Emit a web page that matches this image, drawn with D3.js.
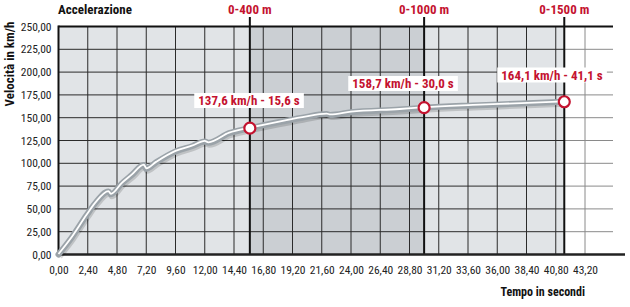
<!DOCTYPE html>
<html>
<head>
<meta charset="utf-8">
<script src="https://cdn.jsdelivr.net/npm/d3@7"></script>
<style>
  html, body { margin: 0; padding: 0; background: #fff; }
  svg { display: block; }
</style>
</head>
<body>
<svg id="chart" width="630" height="307"></svg>
<script>
// accelerazione: tempo (s) / velocita (km/h)
const times  = [0, 1.1, 2.3, 3.0, 4.1, 4.3, 5.2, 6.0, 7.0, 7.2, 8.0, 9.6, 11.0, 12.0, 12.3, 14.0, 15.7, 18.0, 20.0, 22.0, 22.3, 24.0, 28.0, 30.0, 34.0, 38.0, 41.5]
const speeds = [0, 19, 43, 56, 69, 66, 78, 87, 98, 94, 101, 113, 119, 124, 122.5, 133, 138.5, 145, 150, 154, 153, 156, 159, 161, 163.5, 165.5, 167.5]

const xTicks = [0, 2.4, 4.8, 7.2, 9.6, 12, 14.4, 16.8, 19.2, 21.6, 24, 26.4, 28.8, 31.2, 33.6, 36, 38.4, 40.8, 43.2]
const yTicks = [0, 25, 50, 75, 100, 125, 150, 175, 200, 225, 250]

const markerNames  = ['0-400 m', '0-1000 m', '0-1500 m']
const markerTimes  = [15.7, 30.0, 41.5]
const markerSpeeds = [138.5, 161, 167.5]
const markerLabels = ['137,6 km/h - 15,6 s', '158,7 km/h - 30,0 s', '164,1 km/h - 41,1 s']

const FONT = '"Liberation Sans Narrow", "Roboto Condensed", "Open Sans", sans-serif'
const RED = '#c4122f'
const fmt = (d) => d3.format('.2f')(d).replace('.', ',')

const svg = d3.select('#chart')

const x = d3.scaleLinear().domain([0, 43.2]).range([58.5, 585])
const y = d3.scaleLinear().domain([0, 250]).range([254.5, 26.5])

const xGridEnd = x.invert(613)
const xAxisEnd = x.invert(625)
const shadeEnd = markerTimes[2]

// background areas
svg.append('rect')
  .attr('x', x(0)).attr('y', y(250))
  .attr('width', x(shadeEnd) - x(0)).attr('height', y(0) - y(250))
  .attr('fill', '#e1e4e7')

svg.append('rect')
  .attr('x', x(markerTimes[0])).attr('y', y(250))
  .attr('width', x(markerTimes[1]) - x(markerTimes[0])).attr('height', y(0) - y(250))
  .attr('fill', '#cbcfd3')

// griglia orizzontale
const grid = svg.append('g').attr('class', 'grid')
grid.selectAll('line.h')
  .data(yTicks.filter((d) => d > 0 && d < 250))
  .enter()
  .append('line')
  .attr('x1', x(0)).attr('x2', x(shadeEnd))
  .attr('y1', (d) => y(d)).attr('y2', (d) => y(d))
  .attr('stroke', '#2b2b2b').attr('stroke-width', 1)
grid.selectAll('line.hw')
  .data(yTicks.filter((d) => d > 0 && d < 250))
  .enter()
  .append('line')
  .attr('x1', x(shadeEnd)).attr('x2', x(xGridEnd))
  .attr('y1', (d) => y(d)).attr('y2', (d) => y(d))
  .attr('stroke', '#8a8a8a').attr('stroke-width', 1)

// griglia verticale
grid.selectAll('line.v')
  .data(xTicks.filter((d) => d > 0))
  .enter()
  .append('line')
  .attr('x1', (d) => x(d)).attr('x2', (d) => x(d))
  .attr('y1', y(250)).attr('y2', y(0))
  .attr('stroke', (d) => d > shadeEnd ? '#8a8a8a' : '#2b2b2b')
  .attr('stroke-width', 1)

// bordo superiore
svg.append('line')
  .attr('x1', x(0)).attr('x2', x(xGridEnd))
  .attr('y1', y(250)).attr('y2', y(250))
  .attr('stroke', '#111').attr('stroke-width', 2)

// linee dei traguardi
svg.append('g').selectAll('line')
  .data(markerTimes)
  .enter()
  .append('line')
  .attr('x1', (d) => x(d)).attr('x2', (d) => x(d))
  .attr('y1', 17).attr('y2', y(0))
  .attr('stroke', '#111').attr('stroke-width', 2)

// assi
const xAxis = svg.append('g')
  .attr('transform', `translate(0, ${y(0)})`)
  .call(d3.axisBottom(x).tickValues(xTicks).tickSize(0).tickPadding(11).tickFormat(fmt))
xAxis.select('.domain').remove()
xAxis.append('line')
  .attr('x1', x(0) - 1).attr('x2', x(xAxisEnd))
  .attr('stroke', '#222').attr('stroke-width', 2.5)

const yAxis = svg.append('g')
  .attr('transform', `translate(${x(0)}, 0)`)
  .call(d3.axisLeft(y).tickValues(yTicks).tickSize(0).tickPadding(7).tickFormat(fmt))
yAxis.select('.domain').remove()
yAxis.append('line')
  .attr('y1', y(250) - 1).attr('y2', y(0))
  .attr('stroke', '#111').attr('stroke-width', 2)

svg.selectAll('.tick text')
  .attr('font-family', FONT)
  .attr('font-size', 11.5)
  .attr('fill', '#222')

// curva
const line = d3.line()
  .x((d, i) => x(times[i]))
  .y((d) => y(d))
  .curve(d3.curveMonotoneX)

const curve = svg.append('g')
curve.append('path')
  .datum(speeds)
  .attr('d', line)
  .attr('transform', 'translate(1, 2)')
  .attr('fill', 'none')
  .attr('stroke', 'rgba(0,0,0,0.15)')
  .attr('stroke-width', 6)
curve.append('path')
  .datum(speeds)
  .attr('d', line)
  .attr('fill', 'none')
  .attr('stroke', '#9ba3a9')
  .attr('stroke-width', 6)
  .attr('stroke-linejoin', 'round')
  .attr('stroke-linecap', 'round')
curve.append('path')
  .datum(speeds)
  .attr('d', line)
  .attr('transform', 'translate(0, -0.5)')
  .attr('fill', 'none')
  .attr('stroke', '#fff')
  .attr('stroke-width', 1.8)

// marcatori
svg.append('g').selectAll('circle')
  .data(markerTimes)
  .enter()
  .append('circle')
  .attr('cx', (d) => x(d))
  .attr('cy', (d, i) => y(markerSpeeds[i]))
  .attr('r', 5.5)
  .attr('fill', '#fff')
  .attr('stroke', RED)
  .attr('stroke-width', 2.2)

// nomi traguardi in alto
svg.append('g').selectAll('text')
  .data(markerNames)
  .enter()
  .append('text')
  .attr('x', (d, i) => x(markerTimes[i]))
  .attr('y', 14)
  .attr('text-anchor', 'middle')
  .attr('font-family', FONT)
  .attr('font-weight', 'bold')
  .attr('font-size', 13)
  .attr('fill', RED)
  .text((d) => d)

// etichette valori
const labelPos = [[249, 100.5], [403, 83.5], [552, 75]]
const labels = svg.append('g').selectAll('g')
  .data(markerLabels)
  .enter()
  .append('g')
  .attr('transform', (d, i) => `translate(${labelPos[i][0]}, ${labelPos[i][1]})`)
labels.append('text')
  .attr('text-anchor', 'middle')
  .attr('dy', '0.35em')
  .attr('font-family', FONT)
  .attr('font-weight', 'bold')
  .attr('font-size', 13)
  .attr('fill', RED)
  .text((d) => d)
labels.each(function () {
  const g = d3.select(this)
  const bb = g.select('text').node().getBBox()
  g.insert('rect', 'text')
    .attr('x', bb.x - 4).attr('y', -7.5)
    .attr('width', bb.width + 8).attr('height', 15)
    .attr('fill', '#fff')
})

// titoli
svg.append('text')
  .attr('x', 58).attr('y', 14)
  .attr('font-family', FONT)
  .attr('font-weight', 'bold')
  .attr('font-size', 13)
  .attr('fill', '#111')
  .text('Accelerazione')

svg.append('text')
  .attr('transform', 'translate(14, 64) rotate(-90)')
  .attr('text-anchor', 'middle')
  .attr('font-family', FONT)
  .attr('font-weight', 'bold')
  .attr('font-size', 13)
  .attr('fill', '#111')
  .text('Velocità in km/h')

svg.append('text')
  .attr('x', 585).attr('y', 296)
  .attr('text-anchor', 'end')
  .attr('font-family', FONT)
  .attr('font-weight', 'bold')
  .attr('font-size', 12)
  .attr('fill', '#111')
  .text('Tempo in secondi')
</script>
</body>
</html>
